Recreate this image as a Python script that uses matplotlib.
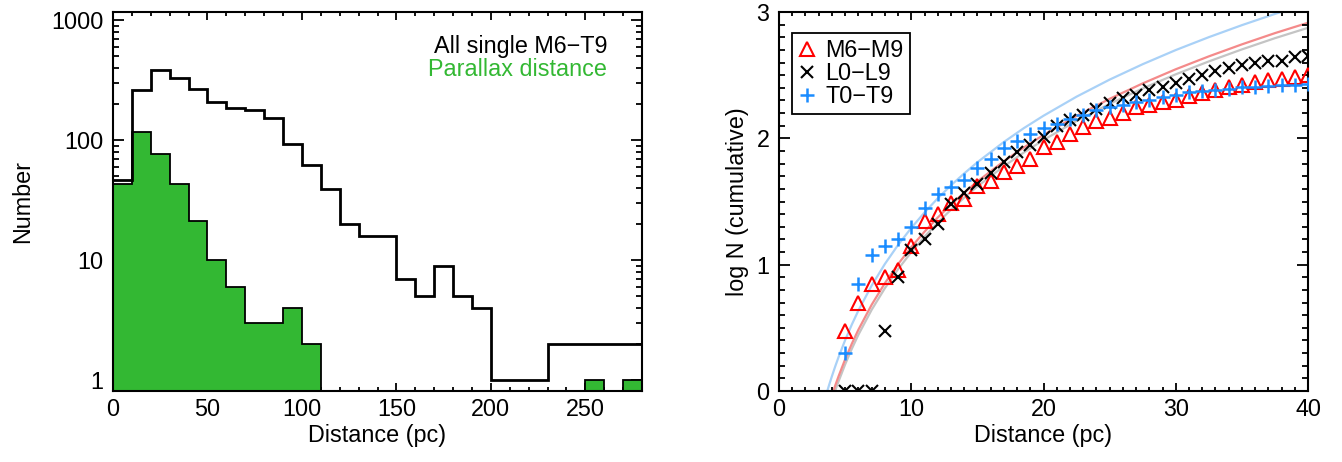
import matplotlib
matplotlib.use("Agg")
import matplotlib.pyplot as plt
from matplotlib.ticker import MultipleLocator, FixedLocator, NullFormatter
import numpy as np

plt.rcParams['font.family'] = ['Liberation Sans', 'DejaVu Sans']
plt.rcParams['font.size'] = 16.8

# --- left panel: histogram of distances (bins of 10 pc) ---
edges = np.arange(0, 290, 10)
n_all = np.array([46, 261, 383, 326, 264, 208, 186, 178, 153, 93, 62, 39, 20, 16,
                  16, 7, 5, 9, 5, 4, 1, 1, 1, 2, 2, 2, 2, 2])
n_plx = np.array([43, 116, 76, 43, 21, 10, 6, 3, 3, 4, 2, 0, 0, 0,
                  0, 0, 0, 0, 0, 0, 0, 0, 0, 0, 0, 1, 0, 1])

# --- right panel: cumulative counts vs distance ---
dist = np.arange(5, 41)
logn_M = [0.477, 0.699, 0.845, 0.903, 0.954, 1.146, 1.342, 1.398, 1.491, 1.52,
          1.623, 1.663, 1.737, 1.778, 1.833, 1.934, 1.973, 2.037, 2.09, 2.137,
          2.161, 2.199, 2.246, 2.267, 2.288, 2.303, 2.332, 2.36, 2.386, 2.41,
          2.425, 2.446, 2.459, 2.47, 2.489, 2.50]
logn_L = [0, 0, 0, 0.477, 0.903, 1.114, 1.204, 1.322, 1.477, 1.568,
          1.64, 1.724, 1.813, 1.895, 1.947, 2.009, 2.097, 2.149, 2.188, 2.236,
          2.279, 2.32, 2.346, 2.386, 2.403, 2.438, 2.471, 2.504, 2.535, 2.556,
          2.582, 2.595, 2.609, 2.614, 2.64, 2.65]
logn_T = [0.301, 0.845, 1.079, 1.146, 1.204, 1.301, 1.447, 1.556, 1.613, 1.672,
          1.763, 1.833, 1.924, 1.982, 2.037, 2.083, 2.117, 2.155, 2.188, 2.228,
          2.246, 2.267, 2.288, 2.307, 2.324, 2.34, 2.366, 2.377, 2.386, 2.394,
          2.403, 2.405, 2.412, 2.42, 2.425, 2.43]

# model curves
d_blue = [3.65, 3.8, 4, 4.25, 4.5, 5, 5.5, 6, 7, 8, 9, 10, 11, 12, 13, 14, 15,
          17, 18.5, 20, 22.5, 25, 27.5, 30, 32.5, 35, 37.5, 40]
y_blue = [0, 0.052, 0.117, 0.195, 0.268, 0.403, 0.525, 0.637, 0.834, 1.005,
          1.156, 1.291, 1.413, 1.525, 1.628, 1.722, 1.811, 1.971, 2.080, 2.179,
          2.330, 2.465, 2.587, 2.699, 2.801, 2.896, 2.985, 3.067]
d_red = [4.11, 4.3, 4.5, 5, 5.5, 6, 7, 8, 9, 10, 11, 12, 13, 14, 15, 17, 18.5,
         20, 22.5, 25, 27.5, 30, 32.5, 35, 37.5, 40]
y_red = [0, 0.058, 0.116, 0.251, 0.373, 0.485, 0.682, 0.853, 1.004, 1.139,
         1.261, 1.373, 1.475, 1.570, 1.659, 1.819, 1.927, 2.027, 2.178, 2.313,
         2.435, 2.547, 2.649, 2.744, 2.833, 2.915]
d_grey = [4.24, 4.35, 4.5, 5, 5.5, 6, 7, 8, 9, 10, 11, 12, 13, 14, 15, 17, 18.5,
          20, 22.5, 25, 27.5, 30, 32.5, 35, 37.5, 40]
y_grey = [0, 0.033, 0.076, 0.211, 0.333, 0.445, 0.642, 0.813, 0.964, 1.099,
          1.221, 1.333, 1.435, 1.530, 1.619, 1.779, 1.887, 1.987, 2.138, 2.273,
          2.395, 2.507, 2.609, 2.704, 2.793, 2.875]

green = '#33b833'

fig = plt.figure(figsize=(13.42, 4.62), dpi=100)
ax1 = fig.add_axes([0.0842, 0.1537, 0.3942, 0.8203])
ax2 = fig.add_axes([0.5805, 0.1537, 0.3942, 0.8203])

for ax in (ax1, ax2):
    for s in ax.spines.values():
        s.set_linewidth(1.5)
    ax.tick_params(which='both', direction='in', top=True, right=True, width=1.3)
    ax.tick_params(axis='x', which='major', length=5.5, pad=5)
    ax.tick_params(axis='x', which='minor', length=3)
    ax.tick_params(axis='y', which='major', length=8, pad=7)
    ax.tick_params(axis='y', which='minor', length=4.5)

# left: green filled runs of non-empty bins
i = 0
while i < len(n_plx):
    if n_plx[i] > 0:
        j = i
        while j < len(n_plx) and n_plx[j] > 0:
            j += 1
        ax1.stairs(n_plx[i:j], edges[i:j + 1], fill=True, baseline=0.1,
                   facecolor=green, edgecolor='black', linewidth=1.3, zorder=2)
        i = j
    else:
        i += 1
ax1.stairs(n_all, edges, baseline=None, color='black', linewidth=2.0, zorder=3)

ax1.set_yscale('log')
ax1.set_xlim(0, 280)
ax1.set_ylim(0.81, 1166)
ax1.xaxis.set_major_locator(MultipleLocator(50))
ax1.xaxis.set_minor_locator(MultipleLocator(10))
ax1.yaxis.set_major_locator(FixedLocator([1, 10, 100, 1000]))
ax1.set_yticklabels(['1', '10', '100', '1000'])
ax1.yaxis.set_minor_formatter(NullFormatter())
ax1.set_xlabel('Distance (pc)', labelpad=2)
ax1.set_ylabel('Number', labelpad=12)
ax1.text(0.934, 0.910, 'All single M6\u2212T9', transform=ax1.transAxes,
         ha='right', va='center', color='black')
ax1.text(0.934, 0.847, 'Parallax distance', transform=ax1.transAxes,
         ha='right', va='center', color=green)

# right: model curves + cumulative points
ax2.plot(d_blue, y_blue, color='#a9d1f7', lw=1.6, zorder=1)
ax2.plot(d_grey, y_grey, color='#c4c4c4', lw=1.6, zorder=1)
ax2.plot(d_red, y_red, color='#f48a8a', lw=1.6, zorder=1)
ax2.plot(dist, logn_M, ls='none', marker='^', ms=10, mfc='none', mec='#ff0000',
         mew=1.5, label='M6\u2212M9', zorder=3)
ax2.plot(dist, logn_L, ls='none', marker='x', ms=9, color='black',
         mew=1.5, label='L0\u2212L9', zorder=4)
ax2.plot(dist, logn_T, ls='none', marker='+', ms=10, color='#1a8cff',
         mew=1.8, label='T0\u2212T9', zorder=5)

ax2.set_xlim(0, 40)
ax2.set_ylim(0, 3)
ax2.xaxis.set_major_locator(MultipleLocator(10))
ax2.xaxis.set_minor_locator(MultipleLocator(1))
ax2.yaxis.set_major_locator(MultipleLocator(1))
ax2.yaxis.set_minor_locator(MultipleLocator(0.1))
ax2.set_xlabel('Distance (pc)', labelpad=2)
ax2.set_ylabel('log N (cumulative)', labelpad=5)
leg = ax2.legend(loc='upper left', bbox_to_anchor=(0.024, 0.945), frameon=True,
                 fancybox=False, edgecolor='black', framealpha=1,
                 handlelength=0.8, handletextpad=0.4, borderpad=0.25,
                 labelspacing=0.0, borderaxespad=0)
leg.get_frame().set_linewidth(1.3)

fig.savefig('out.png', dpi=100)
